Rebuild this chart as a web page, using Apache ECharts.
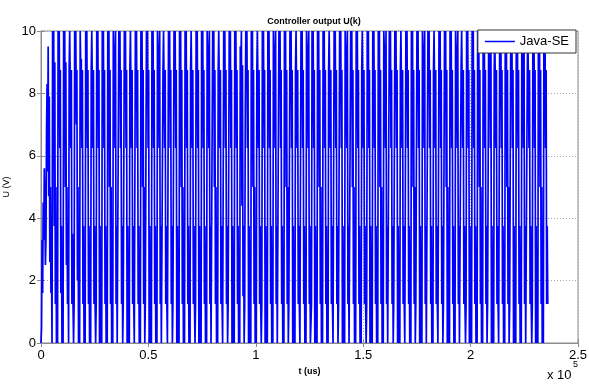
<!DOCTYPE html>
<html><head><meta charset="utf-8">
<script src="https://cdn.jsdelivr.net/npm/echarts@6/dist/echarts.min.js"></script>
<style>html,body{margin:0;padding:0;background:#fff}#c{width:589px;height:388px}</style>
</head><body><div id="c"></div>
<script>
const titleText = 'Controller output U(k)';
const seriesName = 'Java-SE';
const xAxisName = 't (us)';
const yAxisName = 'U (V)';
const xTickLabels = ['0', '0.5', '1', '1.5', '2', '2.5'];
const xMax = 250000;
const xStep = 50000;
const yMax = 10;
const yStep = 2;
const sampleTime = 257; // us between controller samples
// controller output samples, ten per row (one oscillation per row)
const u = [
  0, 0.5, 3.3, 1.6, 4.5, 3.3, 5.6, 4.5, 2.5, 3.3,
  6.7, 8.3, 5.5, 9.5, 4.7, 7.9, 2.6, 5, 1.6, 2.5,
  0, 10, 7.9, 10, 3.75, 9, 1.25, 5, 0, 1.25,
  0, 10, 8.75, 10, 6.25, 8.75, 1.6, 3.75, 0, 1.25,
  0, 10, 8.75, 10, 5, 9, 2.5, 5, 1.25, 2.5,
  0, 8.75, 10, 10, 6.25, 8.75, 1.25, 3.5, 1.25, 0,
  1.25, 10, 8.75, 10, 7, 8.75, 2, 5, 0, 1.25,
  0, 10, 8.75, 9.1, 6.25, 8.75, 1.25, 3.75, 0, 1.25,
  0, 10, 8.75, 10, 6.25, 8.75, 1.25, 3.75, 0, 1.25,
  0, 8.75, 10, 10, 6.25, 8.75, 1.25, 3.75, 1.25, 0,
  1.25, 10, 8.75, 10, 6.25, 8.75, 0, 3.75, 0, 1.25,
  0, 10, 8.75, 10, 6.25, 8.75, 1.25, 3.75, 0, 1.25,
  0, 10, 8.75, 10, 5, 8.75, 1.25, 5, 0, 1.25,
  0, 10, 10, 8.75, 6.25, 10, 1.25, 3.75, 0, 0,
  0, 10, 8.75, 10, 6.25, 8.75, 1.25, 3.75, 0, 1.25,
  1.25, 10, 8.75, 10, 6.25, 8.75, 0, 3.75, 0, 1.25,
  0, 8.75, 10, 10, 6.25, 8.75, 1.25, 3.75, 1.25, 0,
  0, 10, 8.75, 10, 6.25, 8.75, 1.25, 3.75, 0, 1.25,
  0, 10, 8.75, 10, 5, 8.75, 1.25, 5, 0, 1.25,
  1.25, 10, 8.75, 10, 6.25, 8.75, 0, 3.75, 0, 1.25,
  0, 10, 8.75, 10, 6.25, 8.75, 1.25, 3.75, 0, 1.25,
  0, 10, 10, 8.75, 6.25, 10, 1.25, 3.75, 0, 0,
  0, 8.75, 10, 10, 6.25, 8.75, 1.25, 3.75, 1.25, 0,
  0, 10, 8.75, 10, 6.25, 8.75, 1.25, 3.75, 0, 1.25,
  1.25, 10, 8.75, 10, 6.25, 8.75, 0, 3.75, 0, 1.25,
  0, 10, 8.75, 10, 5, 8.75, 1.25, 5, 0, 1.25,
  0, 10, 8.75, 10, 6.25, 8.75, 1.25, 3.75, 0, 1.25,
  0, 8.75, 10, 10, 6.25, 8.75, 1.25, 3.75, 1.25, 0,
  1.25, 10, 8.75, 10, 6.25, 8.75, 0, 3.75, 0, 1.25,
  0, 10, 8.75, 10, 6.25, 8.75, 1.25, 3.75, 0, 1.25,
  0, 10, 10, 8.75, 6.25, 10, 1.25, 3.75, 0, 0,
  0, 10, 8.75, 10, 5, 8.75, 1.25, 5, 0, 1.25,
  0, 8.75, 10, 10, 6.25, 8.75, 1.25, 3.75, 1.25, 0,
  0, 10, 8.75, 10, 6.25, 8.75, 1.25, 3.75, 0, 1.25,
  1.25, 10, 8.75, 10, 6.25, 8.75, 0, 3.75, 0, 1.25,
  0, 10, 8.75, 10, 6.25, 8.75, 1.25, 3.75, 0, 1.25,
  0, 9.5, 8.75, 10, 4.4, 8.9, 1.5, 3.75, 0, 1.25,
  7, 10, 8.75, 10, 6.25, 8.75, 0, 3.75, 0, 1.25,
  0, 10, 8.75, 10, 5, 8.75, 1.25, 5, 0, 1.25,
  0, 8.75, 10, 10, 6.25, 8.75, 1.25, 3.75, 1.25, 0,
  1.25, 10, 8.75, 10, 6.25, 8.75, 0, 3.75, 0, 1.25,
  0, 10, 8.75, 10, 6.25, 8.75, 1.25, 3.75, 0, 1.25,
  0, 10, 10, 8.75, 6.25, 10, 1.25, 3.75, 0, 0,
  0, 10, 8.75, 10, 6.25, 8.75, 1.25, 3.75, 0, 1.25,
  0, 10, 8.75, 10, 5, 8.75, 1.25, 5, 0, 1.25,
  1.25, 10, 8.75, 10, 6.25, 8.75, 0, 3.75, 0, 1.25,
  0, 8.75, 10, 10, 6.25, 8.75, 1.25, 3.75, 1.25, 0,
  0, 10, 8.75, 10, 6.25, 8.75, 1.25, 3.75, 0, 1.25,
  0, 10, 10, 8.75, 6.25, 10, 1.25, 3.75, 0, 0,
  1.25, 10, 8.75, 10, 6.25, 8.75, 0, 3.75, 0, 1.25,
  0, 10, 8.75, 10, 5, 8.75, 1.25, 5, 0, 1.25,
  0, 10, 8.75, 10, 6.25, 8.75, 1.25, 3.75, 0, 1.25,
  0, 8.75, 10, 10, 6.25, 8.75, 1.25, 3.75, 1.25, 0,
  0, 10, 8.75, 10, 6.25, 8.75, 1.25, 3.75, 0, 1.25,
  1.25, 10, 8.75, 10, 6.25, 8.75, 0, 3.75, 0, 1.25,
  0, 10, 10, 8.75, 6.25, 10, 1.25, 3.75, 0, 0,
  0, 10, 8.75, 10, 5, 8.75, 1.25, 5, 0, 1.25,
  0, 10, 8.75, 10, 6.25, 8.75, 1.25, 3.75, 0, 1.25,
  0, 8.75, 10, 10, 6.25, 8.75, 1.25, 3.75, 1.25, 0,
  1.25, 10, 8.75, 10, 6.25, 8.75, 0, 3.75, 0, 1.25,
  0, 10, 8.75, 10, 6.25, 8.75, 1.25, 3.75, 0, 1.25,
  0, 10, 8.75, 10, 5, 8.75, 1.25, 5, 0, 1.25,
  0, 10, 10, 8.75, 6.25, 10, 1.25, 3.75, 0, 0,
  0, 10, 8.75, 10, 6.25, 8.75, 1.25, 3.75, 0, 1.25,
  1.25, 10, 8.75, 10, 6.25, 8.75, 0, 3.75, 0, 1.25,
  0, 8.75, 10, 10, 6.25, 8.75, 1.25, 3.75, 1.25, 0,
  0, 10, 8.75, 10, 6.25, 8.75, 1.25, 3.75, 0, 1.25,
  0, 10, 8.75, 10, 5, 8.75, 1.25, 5, 0, 1.25,
  1.25, 10, 8.75, 10, 6.25, 8.75, 0, 3.75, 0, 1.25,
  0, 10, 10, 8.75, 6.25, 10, 1.25, 3.75, 0, 0,
  0, 10, 8.75, 10, 6.25, 8.75, 1.25, 3.75, 0, 1.25,
  0, 8.75, 10, 10, 6.25, 8.75, 1.25, 3.75, 1.25, 0,
  0, 10, 8.75, 10, 6.25, 8.75, 1.25, 3.75, 0, 1.25,
  1.25, 10, 8.75, 10, 5, 8.75, 0, 5, 0, 1.25,
  0, 10, 8.75, 10, 6.25, 8.75, 1.25, 3.75, 0, 1.25,
  0, 10, 10, 8.75, 6.25, 10, 1.25, 3.75, 0, 0,
  0, 8.75, 10, 10, 6.25, 8.75, 1.25, 3.75, 1.25, 0,
  1.25, 10, 8.75, 10, 6.25, 8.75, 0, 3.75, 0, 1.25,
  0, 10, 8.75, 10, 6.25, 8.75, 1.25, 3.75, 0, 1.25,
  0, 10, 8.75, 10, 5, 8.75, 1.25, 5, 0, 1.25,
  0, 10, 8.75, 10, 6.25, 8.75, 1.25, 3.75, 0, 1.25,
  1.25, 10, 10, 8.75, 6.25, 10, 0, 3.75, 0, 1.25,
  0, 8.75, 10, 10, 6.25, 8.75, 1.25, 3.75, 1.25, 0,
  0, 10, 8.75, 10, 6.25, 8.75, 1.25, 3.75, 0, 1.25,
  0, 10, 8.75, 10, 5, 8.75, 1.25, 5, 0, 1.25,
  1.25, 10, 8.75, 10, 6.25, 8.75, 0, 3.75, 0, 1.25,
  0, 10, 8.75, 10, 6.25, 8.75, 1.25, 3.75, 0, 1.25,
  0, 10, 10, 8.75, 6.25, 10, 1.25, 3.75, 0, 0,
  0, 8.75, 10, 10, 6.25, 8.75, 1.25, 3.75, 1.25, 0,
  1.25, 10, 8.75, 10, 6.25, 8.75, 0, 3.75, 0, 1.25,
  0, 10, 8.75, 10, 5, 8.75, 1.25, 5, 0, 1.25,
  0, 10, 8.75, 10, 6.25, 8.75, 1.25, 3.75, 1.25, 1.25
];

const points = u.map((v, i) => [i * sampleTime, v]);

const axisColor = '#8c8c8c';
const fontFamily = '"Liberation Sans", Arial, sans-serif';
const gridLine = { show: true, lineStyle: { color: '#a6a6a6', type: [1, 2], width: 1 } };

const chart = echarts.init(document.getElementById('c'), null, { renderer: 'canvas' });
chart.setOption({
  animation: false,
  backgroundColor: '#fff',
  textStyle: { fontFamily },
  title: {
    text: titleText, left: 309, top: 12, textAlign: 'center',
    textStyle: { fontSize: 9, fontWeight: 'bold', color: '#000', fontFamily }
  },
  grid: { left: 41, right: 11, top: 31, bottom: 45, show: true, borderColor: axisColor, borderWidth: 1,
    containLabel: false, outerBoundsMode: 'none' },
  legend: {
    data: [seriesName], right: 13, top: 30, padding: [5, 7, 5, 7],
    icon: 'rect', itemWidth: 30, itemHeight: 1.5, itemGap: 4,
    borderColor: '#333', borderWidth: 1, backgroundColor: '#fff',
    textStyle: { fontSize: 13, color: '#000', fontFamily }
  },
  xAxis: [{
    type: 'value', min: 0, max: xMax, interval: xStep,
    name: xAxisName, nameLocation: 'middle', nameGap: 24,
    nameTextStyle: { fontSize: 9, fontWeight: 'bold', color: '#000', fontFamily },
    axisLine: { show: true, lineStyle: { color: axisColor } },
    axisTick: { show: true, inside: true, length: 4, lineStyle: { color: axisColor } },
    axisLabel: { fontSize: 13, color: '#000', margin: 6, fontFamily,
      formatter: v => xTickLabels[Math.round(v / xStep)] },
    splitLine: gridLine
  }, {
    type: 'value', min: 0, max: xMax, interval: xStep, position: 'top',
    axisLine: { show: false }, axisLabel: { show: false }, splitLine: { show: false },
    axisTick: { show: true, inside: true, length: 4, lineStyle: { color: axisColor } }
  }],
  yAxis: [{
    type: 'value', min: 0, max: yMax, interval: yStep,
    name: yAxisName, nameLocation: 'middle', nameGap: 27, nameRotate: 90,
    nameTextStyle: { fontSize: 9, color: '#000', fontFamily },
    axisLine: { show: true, lineStyle: { color: axisColor } },
    axisTick: { show: true, inside: true, length: 4, lineStyle: { color: axisColor } },
    axisLabel: { fontSize: 13, color: '#000', margin: 5, fontFamily },
    splitLine: gridLine
  }, {
    type: 'value', min: 0, max: yMax, interval: yStep, position: 'right',
    axisLine: { show: false }, axisLabel: { show: false }, splitLine: { show: false },
    axisTick: { show: true, inside: true, length: 4, lineStyle: { color: axisColor } }
  }],
  graphic: [
    { type: 'text', left: 547, top: 369, style: { text: 'x 10', font: '13px ' + fontFamily, fill: '#000' } },
    { type: 'text', left: 573, top: 360, style: { text: '5', font: '9px ' + fontFamily, fill: '#000' } }
  ],
  series: [{
    name: seriesName, type: 'line', data: points, symbol: 'none', showSymbol: false,
    sampling: false, xAxisIndex: 0, yAxisIndex: 0,
    lineStyle: { color: '#0000ff', width: 1.7 },
    itemStyle: { color: '#0000ff' }
  }]
});
</script></body></html>
